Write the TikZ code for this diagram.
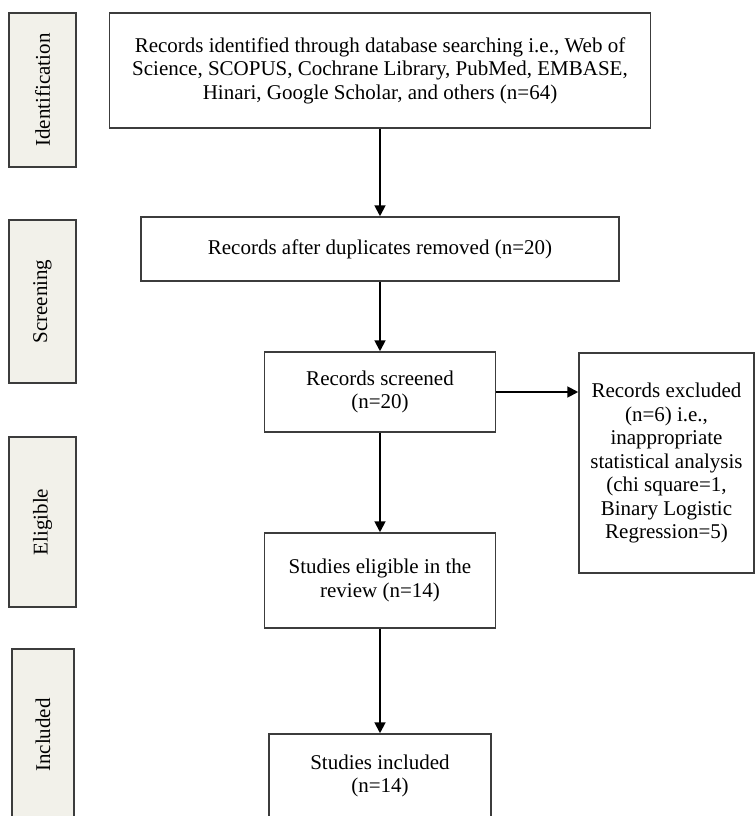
\documentclass[tikz,border=0pt]{standalone}
\usepackage{xcolor}
\usepackage{tikz}
\usepackage{fontspec}
\setmainfont{Liberation Serif}
\usetikzlibrary{arrows.meta}
\definecolor{phasefill}{HTML}{F2F1EA}
\definecolor{edgegray}{HTML}{3C3C3C}

\begin{document}
\begin{tikzpicture}[x=1pt,y=-1pt,font=\fontsize{21}{23.5}\selectfont,
  box/.style={draw=edgegray,line width=1.2pt,align=center,inner sep=0pt,fill=white},
  phase/.style={draw=edgegray,line width=1.2pt,fill=phasefill,inner sep=0pt,rotate=90},
  flow/.style={->,line width=2.8pt},
  >={Triangle[length=11pt,width=10.5pt]}]
  \useasboundingbox (0,0) rectangle (755,816);
  % phase labels on the left
  \node[phase,minimum width=154pt,minimum height=67pt] (ident) at (42.5,90) {Identification};
  \node[phase,minimum width=163pt,minimum height=67pt] (screen) at (42.5,301.5) {Screening};
  \node[phase,minimum width=170pt,minimum height=67pt] (elig) at (42.5,522) {Eligible};
  \node[phase,minimum width=172pt,minimum height=62pt] (incl) at (43,735) {Included};
  % flow boxes
  \node[box,minimum width=541pt,minimum height=115pt] (found) at (380,70.5) {Records identified through database searching i.e., Web of\\Science, SCOPUS, Cochrane Library, PubMed, EMBASE,\\Hinari, Google Scholar, and others (n=64)};
  \node[box,minimum width=478pt,minimum height=64pt] (dedup) at (380,249) {Records after duplicates removed (n=20)};
  \node[box,minimum width=231pt,minimum height=80pt] (screened) at (380,392) {Records screened\\(n=20)};
  \node[box,minimum width=175pt,minimum height=220pt] (excluded) at (666.5,463) {Records excluded\\(n=6) i.e.,\\inappropriate\\statistical analysis\\(chi square=1,\\Binary Logistic\\Regression=5)};
  \node[box,minimum width=231pt,minimum height=95pt] (eligible) at (380,580.5) {Studies eligible in the\\review (n=14)};
  \node[box,minimum width=222pt,minimum height=84pt] (included) at (380,776) {Studies included\\(n=14)};
  % connectors
  \draw[flow] (found) -- (dedup);
  \draw[flow] (dedup) -- (screened);
  \draw[flow] (screened) -- (excluded.west |- screened.east);
  \draw[flow] (screened) -- (eligible);
  \draw[flow] (eligible) -- (included);
\end{tikzpicture}
\end{document}
